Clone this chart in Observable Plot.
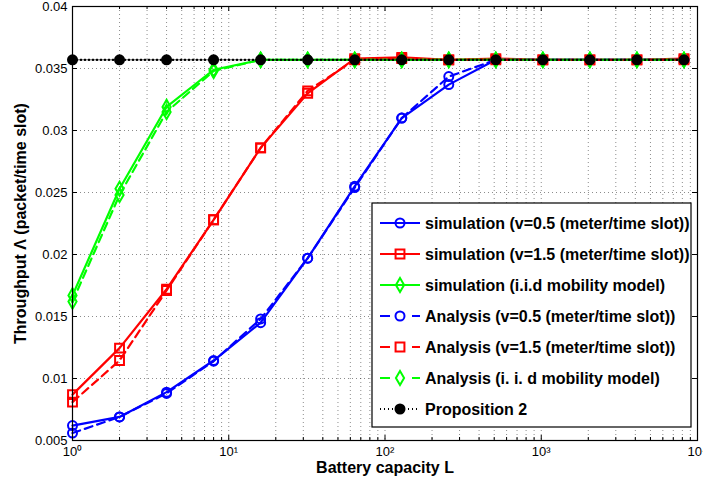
<!DOCTYPE html>
<html><head><meta charset="utf-8">
<script src="https://cdn.jsdelivr.net/npm/d3@7"></script>
<script src="https://cdn.jsdelivr.net/npm/@observablehq/plot@0.6"></script>
<style>
body{margin:0;background:#fff}
#chart{position:relative;width:703px;height:487px}
</style>
</head><body><div id="chart"></div>
<script>
// ---------- data ----------
const batteryL = [1, 2, 4, 8, 16, 32, 64, 128, 256, 512, 1024, 2048, 4096, 8192];
const simV05  = [0.0062, 0.0069, 0.0089, 0.01145, 0.0145, 0.0197, 0.0255, 0.0310, 0.0337, 0.0357, 0.0357, 0.0357, 0.0357, 0.0357];
const simV15  = [0.0087, 0.01245, 0.0172, 0.0228, 0.0286, 0.0330, 0.0358, 0.0359, 0.0357, 0.0358, 0.0357, 0.0357, 0.0357, 0.0358];
const simIID  = [0.0167, 0.0253, 0.0319, 0.0349, 0.0357, 0.0357, 0.0357, 0.0357, 0.0357, 0.0357, 0.0357, 0.0357, 0.0357, 0.0357];
const anaV05  = [0.0056, 0.0069, 0.0088, 0.0114, 0.0148, 0.0197, 0.0254, 0.0310, 0.03435, 0.0357, 0.0357, 0.0357, 0.0357, 0.0357];
const anaV15  = [0.0081, 0.01145, 0.0171, 0.0228, 0.0286, 0.0332, 0.0357, 0.0358, 0.0357, 0.0357, 0.0357, 0.0357, 0.0357, 0.0357];
const anaIID  = [0.0162, 0.0248, 0.0315, 0.0348, 0.0357, 0.0357, 0.0357, 0.0357, 0.0357, 0.0357, 0.0357, 0.0357, 0.0357, 0.0357];
const prop2   = [0.0357, 0.0357, 0.0357, 0.0357, 0.0357, 0.0357, 0.0357, 0.0357, 0.0357, 0.0357, 0.0357, 0.0357, 0.0357, 0.0357];

const xMajorTicks = [1, 10, 100, 1000, 10000];
const xTickLabels = ["10\u2070", "10\u00B9", "10\u00B2", "10\u00B3", "10\u2074"];
const yTicks = [0.005, 0.01, 0.015, 0.02, 0.025, 0.03, 0.035, 0.04];
const yTickLabels = ["0.005", "0.01", "0.015", "0.02", "0.025", "0.03", "0.035", "0.04"];
const legendLabels = [
  "simulation (v=0.5 (meter/time slot))",
  "simulation (v=1.5 (meter/time slot))",
  "simulation (i.i.d mobility model)",
  "Analysis (v=0.5 (meter/time slot))",
  "Analysis (v=1.5 (meter/time slot))",
  "Analysis (i. i. d mobility model)",
  "Proposition 2"
];
const xLabel = "Battery capacity L";
const yLabel = "Throughput \u039B (packet/time slot)";

// ---------- series styling ----------
const BLUE = "#0000ff", RED = "#ff0000", GREEN = "#00ff00";
const series = [
  {label: legendLabels[0], values: simV05, color: BLUE,  symbol: "circle",  r: 4.5, dash: null},
  {label: legendLabels[1], values: simV15, color: RED,   symbol: "square",  r: 5,   dash: null},
  {label: legendLabels[2], values: simIID, color: GREEN, symbol: "diamond", r: 4.3, dash: null},
  {label: legendLabels[3], values: anaV05, color: BLUE,  symbol: "circle",  r: 4.5, dash: "8,5"},
  {label: legendLabels[4], values: anaV15, color: RED,   symbol: "square",  r: 5,   dash: "8,5"},
  {label: legendLabels[5], values: anaIID, color: GREEN, symbol: "diamond", r: 4.3, dash: "8,5"},
  {label: legendLabels[6], values: prop2,  color: "#000", symbol: "circle", r: 4.5, dash: "1,3", filled: true}
];

const W = 703, H = 487, mL = 72, mR = 6, mT = 6, mB = 47;
const plotW = W - mL - mR, plotH = H - mT - mB;
const xMinor = [];
for (const dec of [1, 10, 100, 1000]) for (let k = 2; k <= 9; k++) xMinor.push(dec * k);

const marks = [];
// grid
marks.push(Plot.ruleX([...xMinor, 10, 100, 1000], {x: d => d, stroke: "#000", strokeOpacity: 0.45, strokeDasharray: "1,3"}));
marks.push(Plot.ruleY(yTicks.slice(1, -1), {y: d => d, stroke: "#000", strokeOpacity: 0.45, strokeDasharray: "1,3"}));
// inward ticks
marks.push(Plot.tickX(xMajorTicks, {x: d => d, insetTop: plotH - 5, stroke: "#000"}));
marks.push(Plot.tickX(xMajorTicks, {x: d => d, insetBottom: plotH - 5, stroke: "#000"}));
marks.push(Plot.tickX(xMinor, {x: d => d, insetTop: plotH - 3, stroke: "#000"}));
marks.push(Plot.tickX(xMinor, {x: d => d, insetBottom: plotH - 3, stroke: "#000"}));
marks.push(Plot.tickY(yTicks, {y: d => d, insetRight: plotW - 5, stroke: "#000"}));
marks.push(Plot.tickY(yTicks, {y: d => d, insetLeft: plotW - 5, stroke: "#000"}));
// axes labels
marks.push(Plot.axisX(xMajorTicks, {tickSize: 0, tickPadding: 6, label: null, fontSize: 13,
  tickFormat: d => xTickLabels[xMajorTicks.indexOf(d)]}));
marks.push(Plot.axisY(yTicks, {tickSize: 0, tickPadding: 5, label: null, fontSize: 13,
  tickFormat: d => yTickLabels[yTicks.indexOf(d)]}));
marks.push(Plot.text([xLabel], {text: d => d, frameAnchor: "bottom", dy: 32, textAnchor: "middle", fontWeight: "bold", fontSize: 16}));
marks.push(Plot.text([yLabel], {text: d => d, frameAnchor: "left", dx: -52, rotate: -90, textAnchor: "middle", fontWeight: "bold", fontSize: 16}));

// data
for (const s of series) {
  const rows = batteryL.map((L, i) => ({L, v: s.values[i]}));
  marks.push(Plot.line(rows, {x: "L", y: "v", stroke: s.color, strokeWidth: 2.2, strokeDasharray: s.dash ?? undefined}));
  marks.push(Plot.dot(rows, {x: "L", y: "v", symbol: s.symbol, r: s.r, stroke: s.color, strokeWidth: 2,
    fill: s.filled ? s.color : "none"}));
}
marks.push(Plot.frame({stroke: "#000", strokeWidth: 1.2}));

const svg = Plot.plot({
  width: W, height: H,
  marginLeft: mL, marginRight: mR, marginTop: mT, marginBottom: mB,
  style: {fontFamily: "'Liberation Sans', Arial, Helvetica, sans-serif", fontSize: "13px", color: "#000", background: "#fff", overflow: "visible"},
  x: {type: "log", domain: [1, 10000]},
  y: {domain: [0.005, 0.04]},
  marks
});

// ---------- legend ----------
const root = d3.select(svg);
const lg = root.append("g").attr("font-family", "'Liberation Sans', Arial, Helvetica, sans-serif").attr("text-anchor", "start");
const bx = 372, by = 203, bw = 319, bh = 224;
lg.append("rect").attr("x", bx).attr("y", by).attr("width", bw).attr("height", bh)
  .attr("fill", "#fff").attr("stroke", "#000").attr("stroke-width", 1.2);
series.forEach((s, i) => {
  const y = 223 + 31 * i;
  const dash = s.dash === "8,5" ? "10,22" : s.dash;
  lg.append("line").attr("x1", 380).attr("x2", 420).attr("y1", y).attr("y2", y)
    .attr("stroke", s.color).attr("stroke-width", 2.2).attr("stroke-dasharray", dash);
  const symType = {circle: d3.symbolCircle, square: d3.symbolSquare, diamond: d3.symbolDiamond}[s.symbol];
  lg.append("path").attr("d", d3.symbol(symType, Math.PI * s.r * s.r)())
    .attr("transform", `translate(400,${y})`)
    .attr("fill", s.filled ? s.color : "none").attr("stroke", s.color).attr("stroke-width", 2);
  lg.append("text").attr("x", 425).attr("y", y).attr("dy", "0.35em").attr("text-anchor", "start")
    .attr("font-size", 16).attr("font-weight", "bold").attr("fill", "#000").text(s.label);
});

document.getElementById("chart").append(svg);
</script>
</body></html>
